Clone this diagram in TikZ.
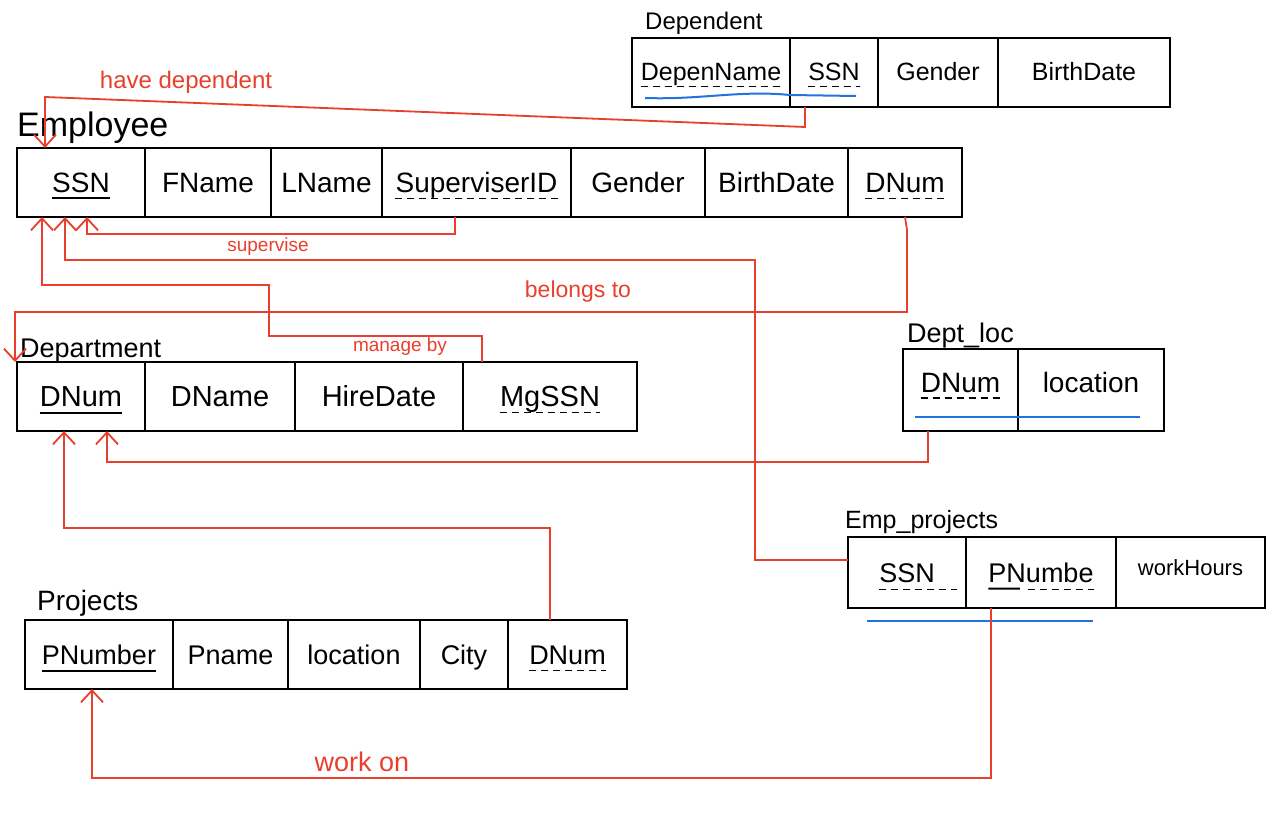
\documentclass[tikz,border=0pt]{standalone}
\usepackage{fontspec}
\setmainfont{Liberation Sans}
\usetikzlibrary{arrows.meta,calc}
\definecolor{relred}{HTML}{E8402C}
\definecolor{keyblue}{HTML}{2272E0}
\tikzset{
  cellbox/.style={draw=black, line width=2.2pt, inner sep=0pt, outer sep=0pt},
  celltext/.style={inner sep=0pt, anchor=base, font=\fontsize{28}{30}\selectfont},
  tabtitle/.style={inner sep=0pt, anchor=base west},
  rel/.style={draw=relred, line width=1.8pt, line join=miter,
    -{Straight Barb[length=12pt,width=22pt,line width=1.8pt]}},
  rellabel/.style={text=relred, inner sep=0pt},
  pk/.style={line width=2pt},
  fk/.style={line width=1.6pt, dash pattern=on 7pt off 5pt},
  ck/.style={draw=keyblue, line width=2pt},
}
% cell: [baseline offset below centre]{name}{x1}{y1}{x2}{y2}{text}
\newcommand\mkcell[7][10]{%
  \node[cellbox, minimum width={(#5)-(#3)}, minimum height={(#6)-(#4)}, anchor=north west] (#2) at (#3,#4) {};
  \node[celltext] (t#2) at ($(#2.center)+(0,#1)$) {#7};}
\newcommand\keyline[2][pk]{\draw[#1] ($(#2.base west)+(0,6)$) -- ($(#2.base east)+(0,6)$);}
\begin{document}
\begin{tikzpicture}[x=1pt,y=-1pt]
\useasboundingbox[fill=white] (0,0) rectangle (1280,813);

% ---------- Dependent ----------
\node[tabtitle, font=\fontsize{24}{26}\selectfont] (depT) at (645,30) {Dependent};
\begin{scope}[celltext/.append style={font=\fontsize{25}{27}\selectfont}]
\mkcell[8]{D1}{632}{38}{790}{107}{DepenName}
\mkcell[8]{D2}{790}{38}{878}{107}{SSN}
\mkcell[8]{D3}{878}{38}{998}{107}{Gender}
\mkcell[8]{D4}{998}{38}{1170}{107}{BirthDate}
\end{scope}
\keyline[fk]{tD1}
\keyline[fk]{tD2}
\draw[ck] (645,98) .. controls (700,100) and (740,90) .. (790,95) -- (856,96);

% ---------- Employee ----------
\node[tabtitle, font=\fontsize{34}{36}\selectfont] (empT) at (17,137) {Employee};
\mkcell{E1}{17}{148}{145}{217}{SSN}
\mkcell{E2}{145}{148}{271}{217}{FName}
\mkcell{E3}{271}{148}{382}{217}{LName}
\mkcell{E4}{382}{148}{571}{217}{SuperviserID}
\mkcell{E5}{571}{148}{705}{217}{Gender}
\mkcell{E6}{705}{148}{848}{217}{BirthDate}
\mkcell{E7}{848}{148}{962}{217}{DNum}
\keyline{tE1}
\keyline[fk]{tE4}
\keyline[fk]{tE7}

% ---------- Department ----------
\node[tabtitle, font=\fontsize{27}{29}\selectfont] (deptT) at (20,357) {Department};
\begin{scope}[celltext/.append style={font=\fontsize{29}{31}\selectfont}]
\mkcell{Dp1}{17}{362}{145}{431}{DNum}
\mkcell{Dp2}{145}{362}{295}{431}{DName}
\mkcell{Dp3}{295}{362}{463}{431}{HireDate}
\mkcell{Dp4}{463}{362}{637}{431}{MgSSN}
\end{scope}
\keyline{tDp1}
\keyline[fk]{tDp4}

% ---------- Dept_loc ----------
\node[tabtitle, font=\fontsize{27}{29}\selectfont] (locT) at (907,342) {Dept\_loc};
\mkcell[2]{L1}{903}{349}{1018}{431}{DNum}
\mkcell[2]{L2}{1018}{349}{1164}{431}{location}
\keyline[fk]{tL1}
\draw[ck] (915,417) -- (1140,417);

% ---------- Emp_projects ----------
\node[tabtitle, font=\fontsize{25}{27}\selectfont] (epT) at (845,528) {Emp\_projects};
\begin{scope}[celltext/.append style={font=\fontsize{27}{29}\selectfont}]
\mkcell[10]{Q1}{848}{537}{966}{608}{SSN}
\mkcell[10]{Q2}{966}{537}{1116}{608}{PNumbe}
\mkcell[3]{Q3}{1116}{537}{1265}{608}{\fontsize{22}{24}\selectfont workHours}
\end{scope}
\draw[fk] ($(tQ1.base west)+(0,7)$) -- ($(tQ1.base east)+(22,7)$);
\draw[pk] ($(tQ2.base west)+(0,6)$) -- ($($(tQ2.base west)!0.3!(tQ2.base east)$)+(0,6)$);
\draw[fk] ($($(tQ2.base west)!0.38!(tQ2.base east)$)+(0,7)$) -- ($(tQ2.base east)+(0,7)$);
\draw[ck] (867,621) -- (1093,621);

% ---------- Projects ----------
\node[tabtitle, font=\fontsize{28}{30}\selectfont] (prT) at (37,610) {Projects};
\begin{scope}[celltext/.append style={font=\fontsize{27}{29}\selectfont}]
\mkcell{P1}{25}{620}{173}{689}{PNumber}
\mkcell{P2}{173}{620}{288}{689}{Pname}
\mkcell{P3}{288}{620}{420}{689}{location}
\mkcell{P4}{420}{620}{508}{689}{City}
\mkcell{P5}{508}{620}{627}{689}{DNum}
\end{scope}
\keyline{tP1}
\keyline[fk]{tP5}

% ---------- relationships ----------
% have dependent
\draw[rel] (805,0 |- D2.south) -- (805,127) -- (45,97) -- (45,0 |- E1.north);
\node[rellabel, font=\fontsize{24}{26}\selectfont] (lblHave) at (186,82) {have dependent};
% supervise
\draw[rel] (455,0 |- E4.south) -- (455,234) -- (87,234) -- (87,0 |- E1.south);
\node[rellabel, font=\fontsize{19}{21}\selectfont] (lblSup) at (268,247) {supervise};
% Emp_projects.SSN -> Employee.SSN
\draw[rel] (Q1.west |- 0,560) -- (755,560) -- (755,260) -- (65,260) -- (65,0 |- E1.south);
% manage by
\draw[rel] (482,0 |- Dp4.north) -- (482,336) -- (269,336) -- (269,285) -- (42,285) -- (42,0 |- E1.south);
\node[rellabel, font=\fontsize{19}{21}\selectfont] (lblMan) at (400,347) {manage by};
% belongs to
\draw[rel] (905,0 |- E7.south) -- (907,230) -- (907,312) -- (15,312) -- (15,0 |- Dp1.north);
\node[rellabel, font=\fontsize{23}{25}\selectfont] (lblBel) at (578,292) {belongs to};
% Dept_loc.DNum -> Department.DNum
\draw[rel] (928,0 |- L1.south) -- (928,462) -- (107,462) -- (107,0 |- Dp1.south);
% Projects.DNum -> Department.DNum
\draw[rel] (550,0 |- P5.north) -- (550,528) -- (64,528) -- (64,0 |- Dp1.south);
% work on
\draw[rel] (991,0 |- Q2.south) -- (991,778) -- (92,778) -- (92,0 |- P1.south);
\node[rellabel, font=\fontsize{27}{29}\selectfont] (lblWork) at (362,762) {work on};
\end{tikzpicture}
\end{document}
